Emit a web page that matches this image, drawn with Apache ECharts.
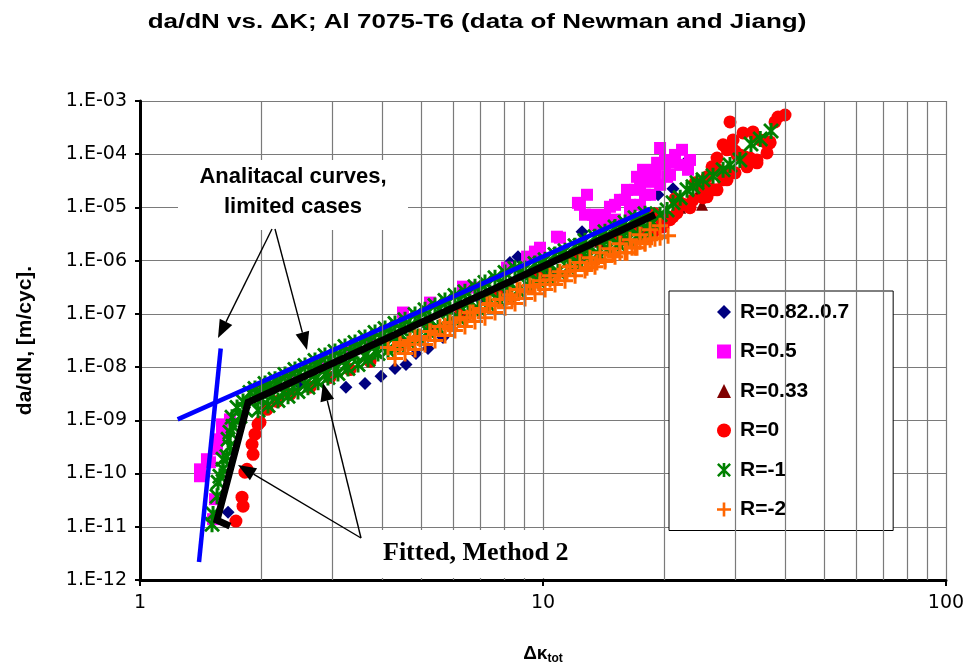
<!DOCTYPE html>
<html><head><meta charset="utf-8">
<script src="https://cdn.jsdelivr.net/npm/echarts@6/dist/echarts.min.js"></script>
<style>html,body{margin:0;padding:0;background:#fff}#c{width:969px;height:670px}</style>
</head><body><div id="c"></div>
<script>
// ---------- data ----------
const seriesNames = ['R=0.82..0.7','R=0.5','R=0.33','R=0','R=-1','R=-2'];
const xTickValues = [1, 10, 100];
const yTickValues = [1e-12,1e-11,1e-10,1e-9,1e-8,1e-7,1e-6,1e-5,1e-4,1e-3];
const minorGridX = [2,3,4,5,6,7,8,9,20,30,40,50,60,70,80,90];

const dataR082 = [[1.654,1.88e-11],[2.494,4.7e-9],[3.244,4.2e-9],[3.617,4.94e-9],[3.963,6.7e-9],[4.293,9.4e-9],[4.571,1.12e-8],[4.841,1.80e-8],[5.184,2.24e-8],[5.647,3.6e-8],[6.977,1.86e-7],[8.28,9.2e-7],[8.67,1.19e-6],[10.41,6.2e-7],[12.50,3.5e-6],[15.52,2.7e-6],[19.30,1.73e-5],[21.02,2.24e-5],[22.77,7.5e-5]];

const dataR05 = [[1.409,8.9e-11],[1.409,1.2e-10],[1.466,1.86e-10],[1.492,1.63e-10],[1.553,2.86e-10],[1.562,4.4e-10],[1.535,3.3e-11],[1.518,1.39e-11],[1.598,6.8e-10],[1.672,1.04e-9],[1.598,8.4e-10],
 [1.985,3.8e-9],[2.357,7.3e-9],[2.796,1.28e-8],[3.320,2.14e-8],[3.722,3.03e-8],[4.494,1.06e-7],[5.244,1.63e-7],[6.332,3.25e-7],
 [6.780,3.12e-7],[8.14,7.4e-7],[9.13,1.19e-6],[9.55,1.48e-6],[9.83,1.75e-6],[10.83,2.82e-6],[11.02,2.7e-6],[12.21,1.22e-5],[12.35,1.12e-5],[12.86,1.73e-5],[13.31,7.3e-6],[13.85,6.7e-6],[14.41,5.2e-6],[14.66,1.03e-5],[15.52,1.39e-5],[16.16,2.14e-5],[16.44,1.12e-5],[15.09,5.9e-6],[17.11,3.76e-5],[17.41,2.44e-5],[17.71,5.1e-5],[17.91,1.73e-5],[18.44,3.03e-5],[18.96,4.1e-5],[19.19,6.9e-5],[19.52,1.31e-4],[20.08,7.8e-5],[20.32,3.76e-5],[21.02,6.9e-5],[22.13,1.21e-4],[22.90,5.1e-5],
 [14.25,7.3e-6],[15.09,1.12e-5],[15.98,1.39e-5],[16.92,2.14e-5],[17.91,3.3e-5],[18.96,5.1e-5],[20.08,6.3e-5],[21.26,9.7e-5],[15.52,4.7e-6],[16.44,7.3e-6],[17.41,1.12e-5],[18.44,1.73e-5],[19.52,2.66e-5],[20.66,4.1e-5],[21.90,6.3e-5],[23.16,7.8e-5],[13.46,4.7e-6],[12.71,7.3e-6]];

const dataR033 = [[4.417,4.1e-8],[7.82,3.12e-7],[13.85,2.27e-6],[18.44,5.4e-6],[21.90,9.9e-6],[24.5,2.14e-5],[24.81,1.12e-5],[27.5,5.1e-5],[28.62,1.31e-4]];

const dataR0 = [[1.730,1.28e-11],[1.791,3.6e-11],[1.802,2.44e-11],[1.821,1.06e-10],[1.843,1.2e-10],[1.897,3.55e-10],[1.908,2.3e-10],[1.929,5.5e-10],[1.963,8.4e-10],[1.985,9.2e-10],[2.066,1.61e-9],[2.188,2.27e-9],
 [2.357,3.07e-9],[2.641,4.2e-9],[2.961,6.4e-9],[3.320,9.0e-9],[3.722,1.28e-8],[4.417,2.66e-8],[5.244,5.1e-8],[6.222,9.7e-8],[7.82,2.3e-7],[9.83,5.5e-7],[12.35,1.30e-6],[15.52,2.7e-6],[17.41,3.8e-6],
 [18.75,3.35e-6],[19.52,4.3e-6],[19.86,4.3e-6],[21.02,6.7e-6],[21.50,7.9e-6],[23.16,9.9e-6],[23.56,1.39e-5],[24.95,1.52e-5],[24.95,2.9e-5],[25.53,3.76e-5],[25.53,1.58e-5],[26.27,5.8e-5],[26.42,2.14e-5],[27.03,8.5e-5],[27.03,2.14e-5],[27.98,1.50e-4],[27.98,3.3e-5],[28.62,3.3e-5],[28.62,1.21e-4],[29.11,4.04e-4],[29.62,1.86e-4],[29.96,4.47e-5],[30.30,9.7e-5],[31.36,2.51e-4],[32.08,5.8e-5],[33.20,2.62e-4],[33.96,7.8e-5],[33.96,6.9e-5],[35.96,1.06e-4],[36.58,1.63e-4],[38.30,5.0e-4],[39.86,5.46e-4],
 [17.91,2.94e-6],[18.96,7.6e-6],[20.08,5.9e-6],[21.26,1.45e-5],[22.51,1.12e-5],[23.84,2.9e-5],[25.23,2.24e-5],[26.72,5.8e-5],[28.29,4.47e-5],[29.96,1.15e-4],[31.71,8.9e-5],[33.58,2.21e-4],[35.55,1.70e-4],[37.64,4.04e-4],
 [18.44,2.94e-6],[19.52,6.4e-6],[20.66,5.9e-6],[21.90,1.22e-5],[23.16,1.12e-5],[24.5,2.44e-5],[25.97,2.24e-5],[27.5,4.87e-5],[29.11,4.47e-5],[30.8,9.7e-5],[32.64,8.5e-5],[34.6,1.86e-4],[36.58,1.70e-4]];

const dataRm1 = [[1.509,1.12e-11],[1.518,1.73e-11],[1.553,3.76e-11],[1.562,6.9e-11],[1.579,8.9e-11],[1.607,1.2e-10],[1.607,1.86e-10],[1.644,2.1e-10],[1.654,4.4e-10],[1.672,3.25e-10],[1.672,6.0e-10],[1.701,7.7e-10],[1.692,1.14e-9],[1.741,1.75e-9],[1.770,1.19e-9],[1.802,2.27e-9],[1.821,1.61e-9],[1.875,3.35e-9],[1.929,2.7e-9],[2.020,3.8e-9],[2.188,5.2e-9],
 [1.985,3.5e-9],[2.008,2.48e-9],[2.102,4.5e-9],[2.126,2.9e-9],[2.226,5.2e-9],[2.264,3.35e-9],[2.357,6.4e-9],[2.397,4.2e-9],[2.494,7.9e-9],[2.567,4.7e-9],[2.641,9.0e-9],[2.718,5.9e-9],[2.796,1.17e-8],[2.877,7.3e-9],[2.961,1.39e-8],[3.047,9.0e-9],[3.134,1.66e-8],[3.226,1.07e-8],[3.320,1.97e-8],[3.416,1.66e-8],[3.515,2.55e-8],[3.617,1.66e-8],[3.722,3.03e-8],[3.830,1.97e-8],[3.940,3.6e-8],[4.055,2.44e-8],[4.172,4.47e-8],[4.293,2.9e-8],[4.417,5.3e-8],[4.677,6.0e-8],[4.953,8.5e-8],[5.244,7.8e-8],[5.551,1.26e-7],[5.877,1.2e-7],[6.222,1.86e-7],[6.590,1.70e-7],[6.977,2.74e-7],[7.386,2.51e-7],[7.82,3.87e-7],[8.28,3.7e-7],[8.77,6.0e-7],[9.28,5.5e-7],[9.83,8.8e-7],[10.41,8.1e-7],[11.02,1.30e-6],[11.67,1.19e-6],[12.35,1.91e-6],[13.08,1.75e-6],[13.85,2.82e-6],[14.66,2.7e-6],[15.52,4.16e-6],[16.44,3.8e-6],[17.41,5.9e-6],[18.22,6.4e-6],
 [1.929,3.98e-9],[2.043,4.94e-9],[2.163,5.9e-9],[2.290,7.3e-9],[2.424,9.0e-9],[2.567,1.07e-8],[2.718,1.33e-8],[2.877,1.66e-8],[3.047,1.97e-8],[3.226,2.44e-8],[3.416,2.9e-8],[3.617,3.6e-8],[3.830,4.47e-8],[4.055,5.3e-8],[4.293,6.6e-8],[4.546,7.8e-8],[4.813,9.7e-8],[5.096,1.2e-7],[5.395,1.43e-7],[5.712,1.78e-7],[6.046,2.21e-7],[6.402,2.62e-7],[6.780,3.25e-7],[7.179,3.87e-7],[7.602,4.8e-7],[8.049,6.0e-7],[8.522,7.1e-7],[9.023,7.1e-7],[9.553,8.8e-7],[10.12,1.04e-6],[10.71,1.30e-6],[11.34,1.54e-6],[12.01,1.91e-6],[12.71,2.37e-6],[13.46,2.82e-6],[14.25,3.5e-6],[15.09,4.3e-6],[15.98,5.2e-6],[16.92,6.4e-6],[17.91,7.6e-6],
 [1.963,1.54e-9],[2.078,1.91e-9],[2.200,2.37e-9],[2.330,2.82e-9],[2.466,3.5e-9],[2.611,4.2e-9],[2.765,5.2e-9],[2.927,6.4e-9],[3.099,7.6e-9],[3.281,9.4e-9],[3.475,1.12e-8],[3.680,1.39e-8],[3.896,1.80e-8],[4.125,2.05e-8],[4.367,2.55e-8],[4.624,3.03e-8],[4.896,3.76e-8],[5.184,4.67e-8],[5.488,5.5e-8],[5.810,6.9e-8],[6.151,8.5e-8],[6.513,1.01e-7],[6.897,1.26e-7],[7.303,1.5e-7],[7.733,1.86e-7],[8.188,2.3e-7],[8.670,2.74e-7],[9.180,3.4e-7],[9.719,4.2e-7],[10.29,5.0e-7],[10.89,6.2e-7],[11.54,7.4e-7],[12.21,9.2e-7],[12.93,1.14e-6],[13.69,1.35e-6],[14.50,1.68e-6],[15.35,2.08e-6],[16.26,2.48e-6],[17.21,3.07e-6],[18.22,3.65e-6],
 [18.75,5.2e-6],[19.52,7.3e-6],[20.32,9.0e-6],[21.02,1.22e-5],[21.90,1.52e-5],[22.77,2.14e-5],[23.56,2.44e-5],[24.11,2.9e-5],[24.95,3.3e-5],[26.42,3.93e-5],[27.98,5.1e-5],[29.11,6.3e-5],[30.8,7.8e-5],[32.82,1.56e-4],[34.6,1.94e-4],[36.8,2.74e-4]];

const dataRm2 = [[4.125,2.34e-8],[4.293,2.14e-8],[4.417,2.9e-8],[4.624,2.66e-8],[4.813,3.6e-8],[4.953,3.3e-8],[5.244,4.67e-8],[5.395,4.1e-8],[5.712,6.0e-8],[5.877,5.3e-8],[6.222,7.8e-8],[6.478,8.5e-8],[6.705,1.06e-7],[6.977,1.11e-7],[7.262,1.5e-7],[7.602,1.43e-7],[8.14,2.02e-7],[8.38,1.86e-7],[8.62,2.86e-7],[9.02,2.62e-7],[9.45,3.25e-7],[9.83,3.55e-7],[10.41,4.4e-7],[10.89,5.2e-7],[11.47,6.2e-7],[12.01,6.5e-7],[12.86,7.4e-7],[13.23,8.8e-7],[13.61,9.2e-7],[14.25,1.04e-6],[14.92,1.30e-6],[15.52,1.41e-6],[16.16,1.41e-6],[16.63,1.75e-6],[17.11,1.75e-6],[17.41,2.27e-6],[17.91,2.18e-6],[18.44,2.48e-6],[19.52,2.7e-6],[20.43,2.94e-6],
 [4.293,1.45e-8],[4.546,1.80e-8],[4.813,2.14e-8],[5.096,2.66e-8],[5.395,3.16e-8],[5.712,3.93e-8],[6.046,4.87e-8],[6.402,5.8e-8],[6.780,7.2e-8],[7.179,8.5e-8],[7.602,1.06e-7],[8.049,1.31e-7],[8.522,1.56e-7],[9.023,1.94e-7],[9.553,2.40e-7],[10.12,2.86e-7],[10.71,3.55e-7],[11.34,4.2e-7],[12.01,5.2e-7],[12.71,6.5e-7],[13.46,7.7e-7],[14.25,9.6e-7],[15.09,1.19e-6],[15.98,1.41e-6],[16.92,1.75e-6],[17.91,2.08e-6],[18.96,2.58e-6],
 [4.417,2.55e-8],[4.677,3.16e-8],[4.953,3.76e-8],[5.244,4.67e-8],[5.551,5.8e-8],[5.877,6.9e-8],[6.222,8.5e-8],[6.590,1.06e-7],[6.977,1.26e-7],[7.386,1.56e-7],[7.82,1.86e-7],[8.28,2.3e-7],[8.77,2.86e-7],[9.28,3.4e-7],[9.83,4.2e-7],[10.41,5.2e-7],[11.02,6.2e-7],[11.67,7.7e-7],[12.35,9.2e-7],[13.08,1.14e-6],[13.85,1.41e-6],[14.66,1.68e-6],[15.52,2.08e-6],[16.44,2.48e-6],[17.41,3.07e-6],[18.44,3.8e-6],[19.52,4.53e-6]];

const curveSteep = [[1.401,2.18e-12],[1.586,2.24e-8]];
const curveFlat = [[1.24,1.04e-9],[18.44,9.4e-6]];
const fittedMethod2 = [[1.672,1.03e-11],[1.553,1.33e-11],[1.854,2.18e-9],[18.96,7.3e-6]];

// ---------- chart ----------
const FONT = '"Liberation Sans", Arial, sans-serif';
const TICKFONT = '"DejaVu Sans", sans-serif';
const asteriskPath = 'path://M-1.5,-8H1.5V8H-1.5Z M-8,-6L-6,-8L8,6L6,8Z M8,-6L-6,8L-8,6L6,-8Z';
const plusPath = 'path://M-1.5,-8H1.5V-1.5H8V1.5H1.5V8H-1.5V1.5H-8V-1.5H-1.5Z';

function yFmt(v){
  const e = Math.round(Math.log10(v));
  const a = Math.abs(e);
  return '1.E' + (e < 0 ? '-' : '+') + (a < 10 ? '0' : '') + a;
}
function arrow(x1,y1,x2,y2){
  const L=18, W=7;
  const dx=x2-x1, dy=y2-y1, len=Math.hypot(dx,dy);
  const ux=dx/len, uy=dy/len;
  const bx=x2-ux*L, by=y2-uy*L;
  return [
    {type:'line', z:100, shape:{x1:x1,y1:y1,x2:bx,y2:by}, style:{stroke:'#000', lineWidth:1.4}},
    {type:'polygon', z:100, shape:{points:[[x2,y2],[bx-uy*W,by+ux*W],[bx+uy*W,by-ux*W]]}, style:{fill:'#000'}}
  ];
}

const chart = echarts.init(document.getElementById('c'));
const scatterBase = {type:'scatter', z:3};
function mk(i, data, symbol, size, color){
  return Object.assign({}, scatterBase, {name:seriesNames[i], data:data, symbol:symbol, symbolSize:size,
    itemStyle:{color:color, opacity:1}, emphasis:{disabled:true}});
}
chart.setOption({
  animation:false,
  backgroundColor:'#fff',
  grid:{left:140, right:23, top:101, bottom:89},
  legend:{
    data:seriesNames, orient:'vertical', left:669, top:291,
    backgroundColor:'#fff', borderColor:'#000', borderWidth:1,
    padding:[10,44,10,48], itemGap:17.5, itemWidth:14, itemHeight:14,
    textStyle:{fontFamily:FONT, fontWeight:'bold', fontSize:21, color:'#000', lineHeight:22, padding:[0,0,0,4]}
  },
  xAxis:{
    type:'log', logBase:10, min:xTickValues[0], max:xTickValues[xTickValues.length-1], interval:1,
    name:'{a|Δκ}{b|tot}', nameLocation:'middle', nameGap:63,
    nameTextStyle:{rich:{a:{fontFamily:FONT,fontWeight:'bold',fontSize:19,color:'#000'},b:{fontFamily:FONT,fontWeight:'bold',fontSize:12,color:'#000',padding:[10,0,0,0]}}},
    axisLine:{lineStyle:{color:'#000', width:3}},
    axisTick:{show:true, length:6, lineStyle:{color:'#000', width:2}},
    axisLabel:{fontFamily:TICKFONT, fontSize:19, color:'#000', margin:14},
    splitLine:{show:true, lineStyle:{color:'#7a7a7a', width:1.2}}
  },
  yAxis:{
    type:'log', logBase:10, min:yTickValues[0], max:yTickValues[yTickValues.length-1], interval:1,
    name:'da/dN, [m/cyc].', nameLocation:'middle', nameGap:104,
    nameTextStyle:{fontFamily:FONT, fontWeight:'bold', fontSize:21, color:'#000'},
    axisLine:{lineStyle:{color:'#000', width:3}},
    axisTick:{show:true, length:5, lineStyle:{color:'#000', width:2}},
    axisLabel:{fontFamily:TICKFONT, fontSize:19, color:'#000', margin:13, formatter:yFmt},
    splitLine:{show:true, lineStyle:{color:'#7a7a7a', width:1.2}}
  },
  series:[
    {type:'line', z:1, data:[], silent:true,
      markLine:{silent:true, symbol:['none','none'], label:{show:false},
        lineStyle:{color:'#7a7a7a', width:1.2, type:'solid'},
        data:minorGridX.map(v=>({xAxis:v}))}},
    mk(0, dataR082, 'diamond', 13, '#000080'),
    mk(1, dataR05, 'rect', 12, '#FF00FF'),
    mk(2, dataR033, 'triangle', 12, '#800000'),
    mk(3, dataR0, 'circle', 13, '#FF0000'),
    mk(4, dataRm1, asteriskPath, 16, '#008000'),
    mk(5, dataRm2, plusPath, 16, '#FF6600'),
    {type:'line', z:4, data:curveSteep, showSymbol:false, symbol:'none', lineStyle:{color:'#0000FF', width:4.5}},
    {type:'line', z:4, data:curveFlat, showSymbol:false, symbol:'none', lineStyle:{color:'#0000FF', width:4.5}},
    {type:'line', z:5, data:fittedMethod2, showSymbol:false, symbol:'none', lineStyle:{color:'#000', width:7, join:'miter'}}
  ],
  graphic:[
    {type:'text', z:100, x:477, y:22, scaleX:1.3, scaleY:1, originX:0, originY:0,
      style:{text:'da/dN vs. ΔK; Al 7075-T6 (data of Newman and Jiang)', fontFamily:FONT, fontWeight:'bold', fontSize:20, fill:'#000', align:'center', verticalAlign:'middle'}},
    {type:'rect', z:90, shape:{x:178,y:160,width:230,height:70}, style:{fill:'#fff'}},
    {type:'text', z:100, x:293, y:177, style:{text:'Analitacal curves,', fontFamily:FONT, fontWeight:'bold', fontSize:22, fill:'#000', align:'center', verticalAlign:'middle'}},
    {type:'text', z:100, x:293, y:207, style:{text:'limited cases', fontFamily:FONT, fontWeight:'bold', fontSize:22, fill:'#000', align:'center', verticalAlign:'middle'}},
    ...arrow(272,229,218,338),
    ...arrow(275,229,307,350),
    {type:'rect', z:90, shape:{x:363,y:530,width:230,height:48}, style:{fill:'#fff'}},
    {type:'text', z:100, x:383, y:553, style:{text:'Fitted, Method 2', fontFamily:'"Liberation Serif","Times New Roman",serif', fontWeight:'bold', fontSize:26, fill:'#000', align:'left', verticalAlign:'middle'}},
    ...arrow(361,538,238,465),
    ...arrow(361,538,323,383)
  ]
});
</script>
</body></html>
